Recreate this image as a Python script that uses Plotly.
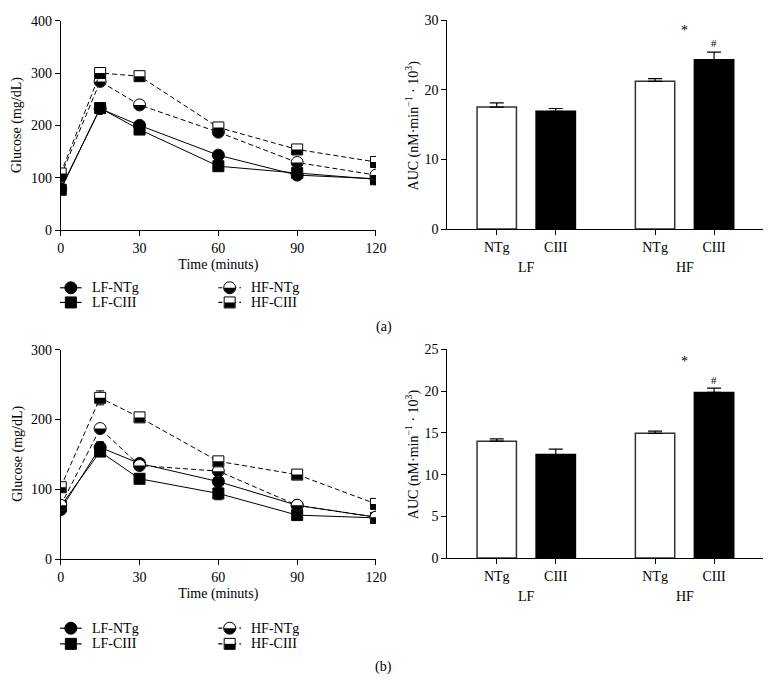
import numpy as np
import plotly.graph_objects as go

W, H = 782, 691

# ---------------- data ----------------
times = [0, 15, 30, 60, 90, 120]
series_names = ["LF-NTg", "LF-CIII", "HF-NTg", "HF-CIII"]

# panel (a) glucose (mg/dL)
a_lf_ntg = [79, 232, 200, 143, 105, 98]
a_lf_ciii = [77, 233, 192, 122, 109, 97]
a_hf_ntg = [103, 284, 239, 187, 129, 105]
a_hf_ciii = [108, 300, 294, 196, 154, 130]
a_lf_ntg_err = [3, 4, 4, 4, 3, 2]
a_lf_ciii_err = [3, 4, 4, 4, 3, 2]
a_hf_ntg_err = [3, 5, 5, 4, 4, 3]
a_hf_ciii_err = [3, 5, 5, 4, 4, 3]

# panel (b) glucose (mg/dL)
b_lf_ntg = [71, 160, 137, 111, 77, 60]
b_lf_ciii = [76, 154, 115, 94, 63, 59]
b_hf_ntg = [77, 187, 134, 126, 77, 60]
b_hf_ciii = [103, 231, 203, 140, 121, 79]
b_lf_ntg_err = [3, 8, 4, 4, 3, 2]
b_lf_ciii_err = [3, 5, 6, 9, 3, 2]
b_hf_ntg_err = [3, 4, 4, 5, 3, 2]
b_hf_ciii_err = [4, 10, 4, 4, 3, 3]

# AUC bars
groups = ["LF", "HF"]
subgroups = ["NTg", "CIII"]
a_auc_ntg = [17.5, 21.2]
a_auc_ntg_err = [0.6, 0.4]
a_auc_ciii = [16.9, 24.3]
a_auc_ciii_err = [0.4, 1.1]
b_auc_ntg = [14.0, 14.95]
b_auc_ntg_err = [0.27, 0.25]
b_auc_ciii = [12.4, 19.85]
b_auc_ciii_err = [0.65, 0.5]

x_ticks_line = [0, 30, 60, 90, 120]
a_y_ticks = [0, 100, 200, 300, 400]
b_y_ticks = [0, 100, 200, 300]
a_auc_ticks = [0, 10, 20, 30]
b_auc_ticks = [0, 5, 10, 15, 20, 25]

# ---------------- helpers ----------------
FONT = "Liberation Serif"


def px(x):
    return x / W


def py(y):
    return 1 - y / H


fig = go.Figure()
shapes = []
annotations = []

styles = {
    "LF-NTg": dict(symbol="circle", fill="black", dash="solid", half=False, shape="circle"),
    "LF-CIII": dict(symbol="square", fill="black", dash="solid", half=False, shape="square"),
    "HF-NTg": dict(symbol="circle", fill="white", dash="5px,3px", half=True, shape="circle"),
    "HF-CIII": dict(symbol="square", fill="white", dash="5px,3px", half=True, shape="square"),
}
MS = {"circle": 12, "square": 11}


def half_path(kind, r):
    if kind == "circle":
        th = np.linspace(np.pi, 2 * np.pi, 25)
        pts = [(r * np.cos(t), r * np.sin(t)) for t in th]
    else:
        pts = [(-r, 0), (-r, -r), (r, -r), (r, 0)]
    return "M " + " L ".join(f"{a:.2f},{b:.2f}" for a, b in pts) + " Z"


def add_line_panel(xa, ya, data, errs):
    for name, vals, err in zip(series_names, data, errs):
        st = styles[name]
        fig.add_trace(go.Scatter(
            x=times, y=vals, mode="lines+markers", name=name, showlegend=False,
            xaxis=xa, yaxis=ya,
            line=dict(color="black", width=1, dash=st["dash"]),
            marker=dict(symbol=st["symbol"], size=MS[st["shape"]], color=st["fill"],
                        line=dict(color="black", width=1)),
            error_y=dict(type="data", array=err, color="black", thickness=1, width=4),
        ))
        if st["half"]:
            r = MS[st["shape"]] / 2 - 0.3
            for t, v in zip(times, vals):
                shapes.append(dict(
                    type="path", xref=xa, yref=ya, xsizemode="pixel", ysizemode="pixel",
                    xanchor=t, yanchor=v, path=half_path(st["shape"], r),
                    fillcolor="black", line=dict(width=0), layer="above"))


def add_bar_panel(xa, ya, ntg, ntg_err, ciii, ciii_err):
    base, gap = 0.84, 2.683
    xs_ntg = [base + g * gap for g in range(len(groups))]
    xs_ciii = [base + g * gap + 1.0 for g in range(len(groups))]
    fig.add_trace(go.Bar(
        x=xs_ntg, y=ntg, width=0.667, xaxis=xa, yaxis=ya, showlegend=False,
        marker=dict(color="white", line=dict(color="#333333", width=1.5)),
        error_y=dict(type="data", symmetric=False, array=ntg_err, arrayminus=[0] * len(ntg),
                     color="black", thickness=1.2, width=7),
    ))
    fig.add_trace(go.Bar(
        x=xs_ciii, y=ciii, width=0.667, xaxis=xa, yaxis=ya, showlegend=False,
        marker=dict(color="black", line=dict(color="black", width=1.5)),
        error_y=dict(type="data", symmetric=False, array=ciii_err, arrayminus=[0] * len(ciii),
                     color="black", thickness=1.2, width=7),
    ))
    tickvals, ticktext = [], []
    for g in range(len(groups)):
        tickvals += [xs_ntg[g], xs_ciii[g]]
        ticktext += subgroups
    return tickvals, ticktext, xs_ntg, xs_ciii


add_line_panel("x", "y", [a_lf_ntg, a_lf_ciii, a_hf_ntg, a_hf_ciii],
               [a_lf_ntg_err, a_lf_ciii_err, a_hf_ntg_err, a_hf_ciii_err])
add_line_panel("x3", "y3", [b_lf_ntg, b_lf_ciii, b_hf_ntg, b_hf_ciii],
               [b_lf_ntg_err, b_lf_ciii_err, b_hf_ntg_err, b_hf_ciii_err])
tv2, tt2, xn2, xc2 = add_bar_panel("x2", "y2", a_auc_ntg, a_auc_ntg_err, a_auc_ciii, a_auc_ciii_err)
tv4, tt4, xn4, xc4 = add_bar_panel("x4", "y4", b_auc_ntg, b_auc_ntg_err, b_auc_ciii, b_auc_ciii_err)

# group labels & significance marks
for xa, ya, xn, xc, ciii, ciii_err, star_y, hash_off in [
    ("x2", "y2", xn2, xc2, a_auc_ciii, a_auc_ciii_err, 28.5, 1.3),
    ("x4", "y4", xn4, xc4, b_auc_ciii, b_auc_ciii_err, 23.5, 1.0),
]:
    for g, lab in enumerate(groups):
        annotations.append(dict(x=(xn[g] + xc[g]) / 2, xref=xa, y=0, yref=ya, yshift=-38,
                                xanchor="center", yanchor="middle",
                                text=lab, showarrow=False, font=dict(size=14)))
    annotations.append(dict(x=(xn[1] + xc[1]) / 2, xref=xa, y=star_y, yref=ya,
                            xanchor="center", yanchor="middle",
                            text="*", showarrow=False, font=dict(size=14)))
    annotations.append(dict(x=xc[1], xref=xa, y=ciii[1] + ciii_err[1] + hash_off, yref=ya,
                            xanchor="center", yanchor="middle",
                            text="#", showarrow=False, font=dict(size=11)))

# y-axis titles
for ycen in [121, 457]:
    annotations.append(dict(x=px(15), y=py(ycen), xref="paper", yref="paper", text="Glucose (mg/dL)",
                            xanchor="center", yanchor="middle",
                            textangle=-90, showarrow=False, font=dict(size=14)))
    annotations.append(dict(x=px(416), y=py(ycen), xref="paper", yref="paper",
                            xanchor="center", yanchor="middle",
                            text="AUC (nM·min<sup>−1</sup> · 10<sup>3</sup>)",
                            textangle=-90, showarrow=False, font=dict(size=14)))

# panel letters
for lab, yy in [("(a)", 327), ("(b)", 675)]:
    annotations.append(dict(x=px(387), y=py(yy), xref="paper", yref="paper", text=lab,
                            xanchor="center", yanchor="middle",
                            showarrow=False, font=dict(size=14)))

# manual legends
legend_layout = [("LF-NTg", 0, 0), ("LF-CIII", 0, 1), ("HF-NTg", 1, 0), ("HF-CIII", 1, 1)]
col_x = [(58, 80), (219, 242)]
text_x = [88, 250]
for rows_y in [(287, 302), (635, 651)]:
    for name, c, r in legend_layout:
        st = styles[name]
        yy = rows_y[r]
        x0, x1 = col_x[c]
        cx = (x0 + x1) / 2
        shapes.append(dict(type="line", xref="paper", yref="paper",
                           x0=px(x0), x1=px(x1), y0=py(yy), y1=py(yy),
                           line=dict(color="black", width=1.2,
                                     dash="solid" if st["dash"] == "solid" else "4px,3px")))
        rr = MS[st["shape"]] / 2
        shapes.append(dict(type="circle" if st["shape"] == "circle" else "rect",
                           xref="paper", yref="paper", xsizemode="pixel", ysizemode="pixel",
                           xanchor=px(cx), yanchor=py(yy), x0=-rr, x1=rr, y0=-rr, y1=rr,
                           fillcolor=st["fill"], line=dict(color="black", width=1)))
        if st["half"]:
            shapes.append(dict(type="path", xref="paper", yref="paper", xsizemode="pixel",
                               ysizemode="pixel", xanchor=px(cx), yanchor=py(yy),
                               path=half_path(st["shape"], rr - 0.3), fillcolor="black",
                               line=dict(width=0)))
        annotations.append(dict(x=px(text_x[c]), y=py(yy), xref="paper", yref="paper",
                                text=name, xanchor="left", yanchor="middle",
                                showarrow=False, font=dict(size=14)))

axis_common = dict(showline=True, linecolor="black", linewidth=1, ticks="outside",
                   ticklen=5, tickcolor="black", tickwidth=1, showgrid=False, zeroline=False,
                   tickfont=dict(family=FONT, size=14, color="black"))

fig.update_layout(
    width=W, height=H, margin=dict(l=0, r=0, t=0, b=0),
    paper_bgcolor="white", plot_bgcolor="white",
    font=dict(family=FONT, color="black", size=14),
    showlegend=False, barmode="overlay",
    xaxis=dict(domain=[px(58.7), px(379.3)], range=[0, 120], tickvals=x_ticks_line,
               anchor="y", title=dict(text="Time (minuts)", font=dict(family=FONT, size=14), standoff=4),
               **axis_common),
    yaxis=dict(domain=[py(228), py(14)], range=[0, 400], tickvals=a_y_ticks, anchor="x",
               **axis_common),
    xaxis2=dict(domain=[px(451.7), px(773)], range=[0, 5.355], tickvals=tv2, ticktext=tt2,
                anchor="y2", **axis_common),
    yaxis2=dict(domain=[py(227), py(13.3)], range=[0, 30], tickvals=a_auc_ticks, anchor="x2",
                **axis_common),
    xaxis3=dict(domain=[px(58.7), px(379.3)], range=[0, 120], tickvals=x_ticks_line,
                anchor="y3", title=dict(text="Time (minuts)", font=dict(family=FONT, size=14), standoff=4),
                **axis_common),
    yaxis3=dict(domain=[py(564.3), py(350.3)], range=[0, 300], tickvals=b_y_ticks, anchor="x3",
                **axis_common),
    xaxis4=dict(domain=[px(451.7), px(773)], range=[0, 5.355], tickvals=tv4, ticktext=tt4,
                anchor="y4", **axis_common),
    yaxis4=dict(domain=[py(563.3), py(350)], range=[0, 25], tickvals=b_auc_ticks, anchor="x4",
                **axis_common),
    shapes=shapes, annotations=annotations,
)

fig.write_html(
    "out.html",
    config={"displayModeBar": False},
    post_script="document.body.style.margin='0';document.body.style.overflow='hidden';",
)
